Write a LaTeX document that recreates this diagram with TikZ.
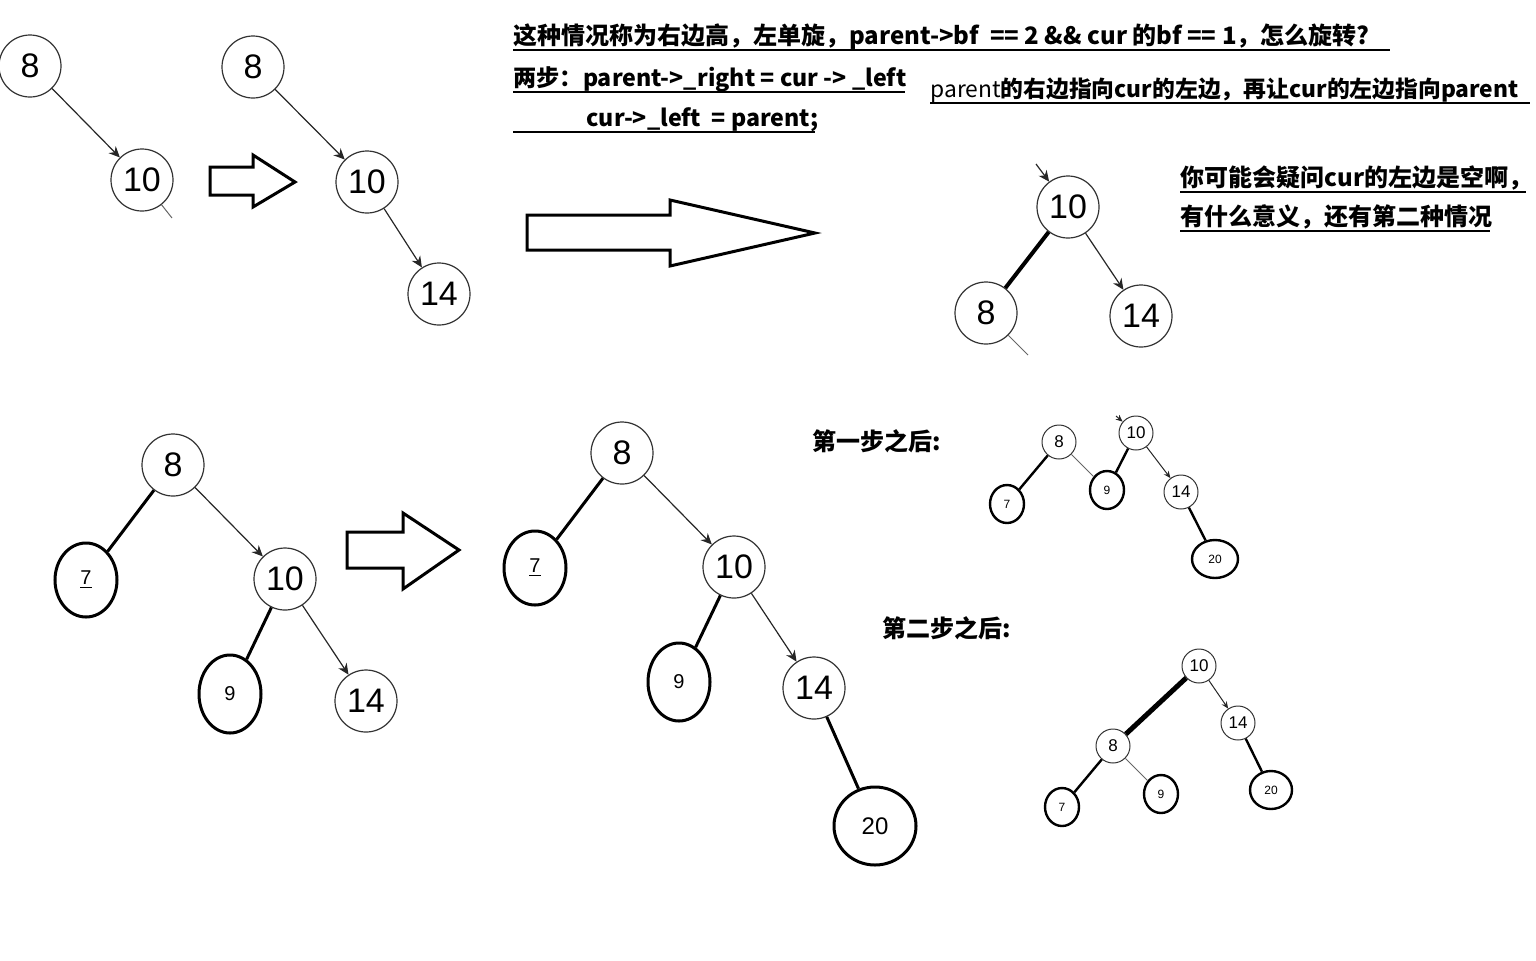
\documentclass[tikz,border=0pt]{standalone}
\usepackage{fontspec}
\setmainfont{Liberation Sans}
\newfontfamily\cjk{Noto Sans CJK SC}
\usepackage{tikz}
\usetikzlibrary{shapes.geometric, arrows, arrows.meta, positioning}

\begin{document}
\begin{tikzpicture}[
    x=0.5pt, y=-0.5pt,
    key/.style={circle, draw=black!80, line width=0.6pt, inner sep=0pt, minimum size=31pt, font=\fontsize{17}{17}\selectfont},
    smallkey/.style={circle, draw=black!80, line width=0.5pt, inner sep=0pt, minimum size=17pt, font=\fontsize{8.5}{8.5}\selectfont},
    leaf/.style={ellipse, draw, line width=1.5pt, inner sep=0pt, minimum width=31pt, minimum height=37pt, font=\fontsize{10}{10}\selectfont},
    smallleaf/.style={ellipse, draw, line width=1.2pt, inner sep=0pt, minimum width=17pt, minimum height=19pt, font=\fontsize{6}{6}\selectfont},
    link/.style={-{Stealth[length=5.5pt, width=5pt]}, line width=0.6pt, draw=black!85},
    smalllink/.style={-{Stealth[length=3.5pt, width=3pt]}, line width=0.5pt, draw=black!85},
    bond/.style={line width=1.5pt},
    faint/.style={line width=0.5pt, draw=black!60},
    note/.style={anchor=west, inner sep=0pt, font=\cjk\bfseries\fontsize{12}{12}\selectfont},
    uline/.style={line width=0.9pt},
    hollow/.style={draw, line width=1.5pt, fill=white, line join=miter}
]
\useasboundingbox (0,0) rectangle (1536,960);

% first tree and the small arrow
\node[key] (a8) at (30,66) {8};
\node[key] (a10) at (142,180) {10};
\coordinate (astub) at (172,218);
\draw[link] (a8) -- (a10);
\draw[faint] (a10) -- (astub);

\draw[hollow] (210,167) -- (253,167) -- (253,155) -- (295,182) -- (253,207) -- (253,195) -- (210,195) -- cycle;

\node[key] (b8) at (253,67) {8};
\node[key] (b10) at (367,182) {10};
\node[key] (b14) at (439,294) {14};
\draw[link] (b8) -- (b10);
\draw[link] (b10) -- (b14);

\draw[hollow] (527,215) -- (670,215) -- (670,200) -- (815,233) -- (670,266) -- (670,250) -- (527,250) -- cycle;

% texts on top
\node[note] (q1) at (513,37) {这种情况称为右边高，左单旋，parent->bf\ \ == 2 \&\& cur 的bf == 1，怎么旋转?};
\node[note, font=\cjk\bfseries\fontsize{11.6}{11.6}\selectfont] (q2) at (513,79) {两步：parent->\_right = cur -> \_left};
\node[note, font=\cjk\bfseries\fontsize{11.6}{11.6}\selectfont] (q3) at (586,120) {cur->\_left\ \ = parent;};
\node[note, font=\cjk\bfseries\fontsize{11.4}{11.4}\selectfont] (q4) at (930,90) {{\mdseries parent}的右边指向cur的左边，再让cur的左边指向parent};
\draw[uline] (513,50) -- (1390,50);
\draw[uline] (513,92) -- (905,92);
\draw[uline] (513,132) -- (815,132);
\draw[uline] (930,103) -- (1530,103);

\node[note] (q5) at (1180,178) {你可能会疑问cur的左边是空啊，};
\node[note] (q6) at (1180,217) {有什么意义，还有第二种情况};
\draw[uline] (1180,192) -- (1526,192);
\draw[uline] (1180,231) -- (1490,231);

% rotated tree
\node[key] (c10) at (1068,207) {10};
\node[key] (c8) at (986,313) {8};
\node[key] (c14) at (1141,316) {14};
\coordinate (cin) at (1036,164);
\coordinate (cstub) at (1028,355);
\draw[link] (cin) -- (c10);
\draw[line width=2pt] (c10) -- (c8);
\draw[link] (c10) -- (c14);
\draw[faint] (c8) -- (cstub);

% second case
\node[key] (d8) at (173,465) {8};
\node[leaf] (d7) at (86,580) {\underline{7}};
\node[key] (d10) at (285,579) {10};
\node[leaf, minimum height=39pt] (d9) at (230,694) {9};
\node[key] (d14) at (366,701) {14};
\draw[bond] (d8) -- (d7);
\draw[link] (d8) -- (d10);
\draw[bond] (d10) -- (d9);
\draw[link] (d10) -- (d14);

\draw[hollow] (347,532) -- (403,532) -- (403,513) -- (459,550) -- (403,589) -- (403,568) -- (347,568) -- cycle;

\node[key] (e8) at (622,453) {8};
\node[leaf] (e7) at (535,568) {\underline{7}};
\node[key] (e10) at (734,567) {10};
\node[leaf, minimum height=39pt] (e9) at (679,682) {9};
\node[key] (e14) at (814,688) {14};
\node[leaf, minimum width=41pt, minimum height=39pt, font=\fontsize{12}{12}\selectfont] (e20) at (875,826) {20};
\draw[bond] (e8) -- (e7);
\draw[link] (e8) -- (e10);
\draw[bond] (e10) -- (e9);
\draw[link] (e10) -- (e14);
\draw[bond] (e14) -- (e20);

% after each step
\node[note] (s1) at (812,441) {第一步之后:};
\node[note] (s2) at (882,628) {第二步之后:};

\node[smallkey] (f8) at (1059,442) {8};
\node[smallkey] (f10) at (1136,433) {10};
\node[smallleaf] (f7) at (1007,504) {7};
\node[smallleaf] (f9) at (1107,490) {9};
\node[smallkey] (f14) at (1181,492) {14};
\node[smallleaf, minimum width=23pt] (f20) at (1215,559) {20};
\coordinate (fin) at (1116,416);
\draw[smalllink] (fin) -- (f10);
\draw[bond, line width=1.2pt] (f8) -- (f7);
\draw[faint] (f8) -- (f9);
\draw[bond, line width=1.2pt] (f10) -- (f9);
\draw[smalllink] (f10) -- (f14);
\draw[bond, line width=1.2pt] (f14) -- (f20);

\node[smallkey] (g10) at (1199,666) {10};
\node[smallkey] (g14) at (1238,723) {14};
\node[smallkey] (g8) at (1113,746) {8};
\node[smallleaf] (g7) at (1062,807) {7};
\node[smallleaf] (g9) at (1161,794) {9};
\node[smallleaf, minimum width=21pt] (g20) at (1271,790) {20};
\draw[line width=2.5pt] (g10) -- (g8);
\draw[smalllink] (g10) -- (g14);
\draw[bond, line width=1.2pt] (g14) -- (g20);
\draw[bond, line width=1.2pt] (g8) -- (g7);
\draw[faint] (g8) -- (g9);

\end{tikzpicture}
\end{document}
